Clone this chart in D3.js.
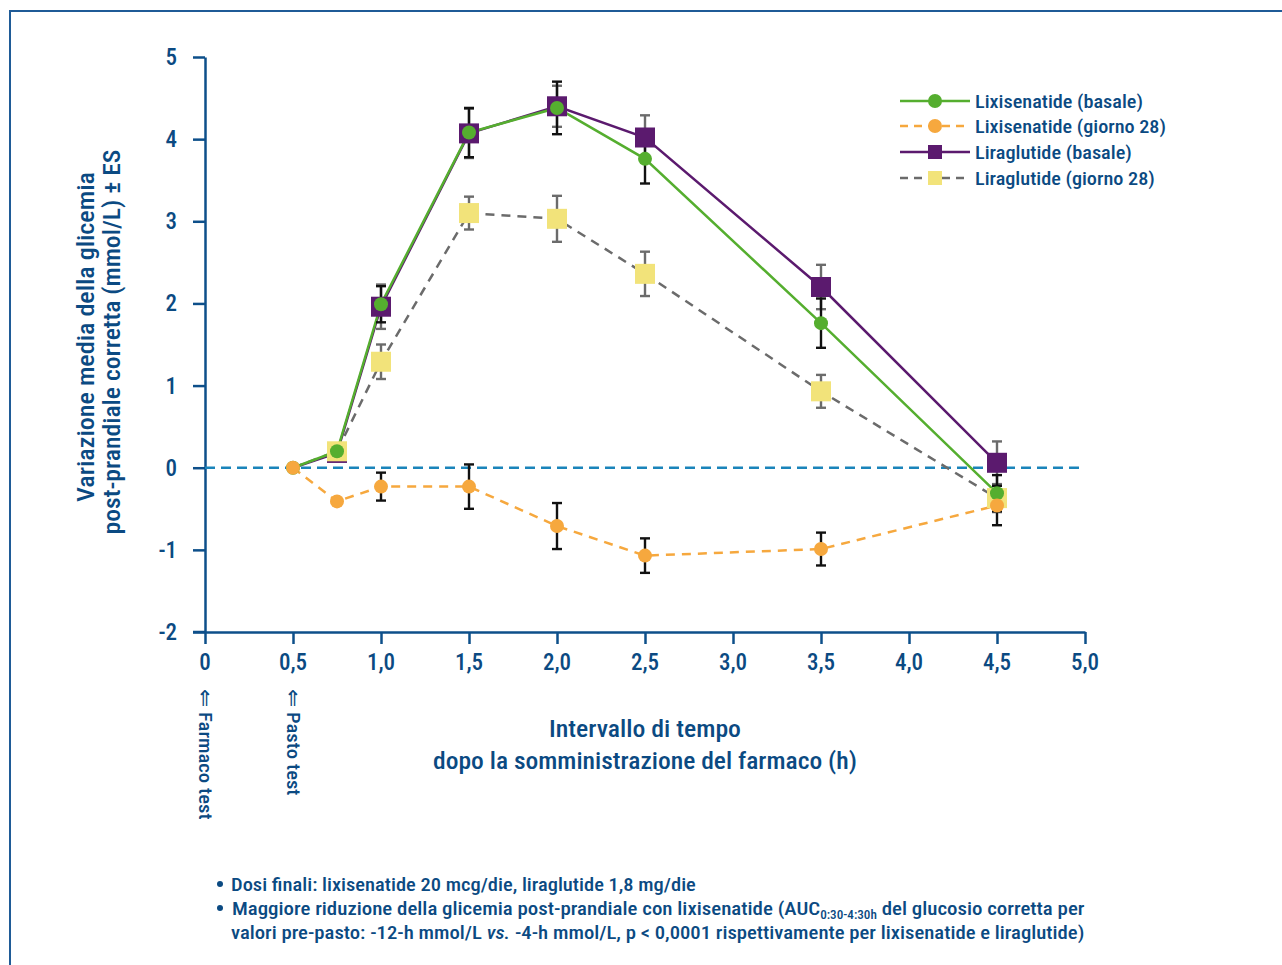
<!DOCTYPE html>
<html>
<head>
<meta charset="utf-8">
<script src="https://cdn.jsdelivr.net/npm/d3@7"></script>
<style>
  html, body { margin: 0; padding: 0; background: #ffffff; }
  svg { display: block; }
  text { font-family: "Liberation Sans Narrow", "Arial Narrow", "Roboto Condensed", Roboto, "Liberation Sans", sans-serif; fill: #0b4a82; font-weight: 500; }
</style>
</head>
<body>
<svg id="chart" width="1282" height="965"></svg>
<script>
// ---------- data ----------
const timeHours = [0.5, 0.75, 1.0, 1.5, 2.0, 2.5, 3.5, 4.5];

const lixiBasale      = [0, 0.20, 1.99, 4.08, 4.38, 3.76, 1.76, -0.31];
const lixiBasaleErr   = [null, null, 0.22, 0.30, 0.32, 0.30, 0.30, 0.22];
const lixiGiorno28    = [0, -0.41, -0.23, -0.23, -0.71, -1.07, -0.99, -0.46];
const lixiGiorno28Err = [null, null, 0.17, 0.27, 0.28, 0.21, 0.20, 0.24];
const liraBasale      = [0, 0.18, 1.96, 4.07, 4.40, 4.02, 2.20, 0.06];
const liraBasaleErr   = [null, null, 0.27, 0.30, 0.25, 0.27, 0.27, 0.26];
const liraGiorno28    = [0, 0.20, 1.29, 3.10, 3.03, 2.36, 0.93, -0.37];
const liraGiorno28Err = [null, null, 0.21, 0.20, 0.28, 0.27, 0.20, 0.17];

const seriesNames = ["Lixisenatide (basale)", "Lixisenatide (giorno 28)", "Liraglutide (basale)", "Liraglutide (giorno 28)"];

const xTicks = [0, 0.5, 1.0, 1.5, 2.0, 2.5, 3.0, 3.5, 4.0, 4.5, 5.0];
const xTickLabels = ["0", "0,5", "1,0", "1,5", "2,0", "2,5", "3,0", "3,5", "4,0", "4,5", "5,0"];
const yTicks = [5, 4, 3, 2, 1, 0, -1, -2];
const yTickLabels = ["5", "4", "3", "2", "1", "0", "-1", "-2"];

const yTitleLines = ["Variazione media della glicemia", "post-prandiale corretta (mmol/L) ± ES"];
const xTitleLines = ["Intervallo di tempo", "dopo la somministrazione del farmaco (h)"];
const markerNotes = ["Farmaco test", "Pasto test"];
const markerNoteX = [0, 0.5];

// ---------- styles ----------
const AXIS = "#0d4f8a";
const series = [
  { name: seriesNames[2], vals: liraBasale,   err: liraBasaleErr,   color: "#5b1a6e", errColor: "#6b6b6b", dash: null,  marker: "square", start: 1 },
  { name: seriesNames[3], vals: liraGiorno28, err: liraGiorno28Err, color: "#6b6b6b", fill: "#f2e37a", errColor: "#6b6b6b", dash: "9,7", marker: "square", start: 1 },
  { name: seriesNames[0], vals: lixiBasale,   err: lixiBasaleErr,   color: "#55ae2f", errColor: "#111111", dash: null,  marker: "circle", start: 0 },
  { name: seriesNames[1], vals: lixiGiorno28, err: lixiGiorno28Err, color: "#f6a83e", errColor: "#111111", dash: "9,7", marker: "circle", start: 0 }
];

const svg = d3.select("#chart");

// frame border
svg.append("rect").attr("x", 10).attr("y", 11).attr("width", 1400).attr("height", 1100)
  .attr("fill", "none").attr("stroke", "#1f5b97").attr("stroke-width", 2);

const x = d3.scaleLinear().domain([0, 5]).range([205, 1085]);
const y = d3.scaleLinear().domain([-2, 5]).range([632, 57]);

function fitWidth(sel, w) {
  const bb = sel.node().getBBox();
  return bb.width > 0 ? w / bb.width : 1;
}

// ---------- axes ----------
const yAxis = d3.axisLeft(y).tickValues(yTicks).tickFormat(() => "").tickSize(12).tickSizeOuter(0);
const gy = svg.append("g").attr("transform", `translate(${x(0)},0)`).call(yAxis);
gy.select(".domain").attr("stroke", AXIS).attr("stroke-width", 2.5);
gy.selectAll(".tick line").attr("stroke", AXIS).attr("stroke-width", 2.5);

const xAxis = d3.axisBottom(x).tickValues(xTicks).tickFormat(() => "").tickSize(12).tickSizeOuter(0);
const gx = svg.append("g").attr("transform", `translate(0,${y(-2)})`).call(xAxis);
gx.select(".domain").attr("stroke", AXIS).attr("stroke-width", 2.5);
gx.selectAll(".tick line").attr("stroke", AXIS).attr("stroke-width", 2.5);
svg.append("line").attr("x1", x(0) - 12).attr("x2", x(0)).attr("y1", y(-2)).attr("y2", y(-2))
  .attr("stroke", AXIS).attr("stroke-width", 2.5);

// tick labels
yTicks.forEach((v, i) => {
  svg.append("text").attr("x", 177).attr("y", y(v) + 8).attr("text-anchor", "end")
    .attr("font-size", 23).attr("font-weight", 400).text(yTickLabels[i]);
});
xTicks.forEach((v, i) => {
  svg.append("text").attr("x", x(v)).attr("y", 670).attr("text-anchor", "middle")
    .attr("font-size", 23).attr("font-weight", 400).text(xTickLabels[i]);
});

// axis titles
const yTitleBase = [94, 120];
const yTitleLen = [330, 385];
const yTitleCenter = [337, 342];
yTitleLines.forEach((t, i) => {
  const tx = svg.append("text").attr("text-anchor", "middle").attr("font-size", 23).text(t);
  const s = fitWidth(tx, yTitleLen[i]);
  tx.attr("transform", `translate(${yTitleBase[i]},${yTitleCenter[i]}) rotate(-90) scale(${s},1)`);
});
const xTitleBase = [737, 769];
const xTitleLen = [192, 424];
xTitleLines.forEach((t, i) => {
  const tx = svg.append("text").attr("text-anchor", "middle").attr("font-size", 23).text(t);
  const s = fitWidth(tx, xTitleLen[i]);
  tx.attr("transform", `translate(645,${xTitleBase[i]}) scale(${s},1)`);
});

// marker notes: arrow + rotated text
const noteLen = [108, 84];
markerNotes.forEach((t, i) => {
  const cx = x(markerNoteX[i]);
  svg.append("text").attr("x", cx).attr("y", 706).attr("text-anchor", "middle")
    .attr("font-size", 22).attr("font-weight", 400).style("font-family", "DejaVu Sans").text("⇑");
  const tx = svg.append("text").attr("text-anchor", "start").attr("font-size", 19).text(t);
  const s = fitWidth(tx, noteLen[i]);
  tx.attr("transform", `translate(${cx - 6},712) rotate(90) scale(${s},1)`);
});

// zero reference line
svg.append("line").attr("x1", x(0)).attr("x2", 1082).attr("y1", y(0)).attr("y2", y(0))
  .attr("stroke", "#1a84ba").attr("stroke-width", 2.5).attr("stroke-dasharray", "10,6");

// ---------- series ----------
const line = d3.line().x((d, i) => x(timeHours[i])).y(d => y(d));
const gLines = svg.append("g");
const gErr = svg.append("g");
const gMarks = svg.append("g");

series.forEach(s => {
  gLines.append("path").attr("d", line(s.vals)).attr("fill", "none")
    .attr("stroke", s.color).attr("stroke-width", 2.5)
    .attr("stroke-dasharray", s.dash);
});
series.forEach(s => {
  s.vals.forEach((v, i) => {
    const e = s.err[i];
    if (e == null) return;
    const cx = x(timeHours[i]);
    const g = gErr.append("g").attr("stroke", s.errColor).attr("stroke-width", 2.4);
    g.append("line").attr("x1", cx).attr("x2", cx).attr("y1", y(v + e)).attr("y2", y(v - e));
    g.append("line").attr("x1", cx - 5).attr("x2", cx + 5).attr("y1", y(v + e)).attr("y2", y(v + e));
    g.append("line").attr("x1", cx - 5).attr("x2", cx + 5).attr("y1", y(v - e)).attr("y2", y(v - e));
  });
});
series.forEach(s => {
  s.vals.forEach((v, i) => {
    if (i < s.start) return;
    const cx = x(timeHours[i]), cy = y(v);
    if (s.marker === "square") {
      gMarks.append("rect").attr("x", cx - 10).attr("y", cy - 10).attr("width", 20).attr("height", 20)
        .attr("fill", s.fill || s.color);
    } else {
      gMarks.append("circle").attr("cx", cx).attr("cy", cy).attr("r", 7).attr("fill", s.color);
    }
  });
});

// ---------- legend ----------
const legendOrder = [2, 3, 0, 1];
const legendY = [101, 126, 152, 178];
const legendLen = [168, 191, 157, 180];
legendOrder.forEach((si, r) => {
  const s = series[si];
  const ly = legendY[r];
  svg.append("line").attr("x1", 900).attr("x2", 970).attr("y1", ly).attr("y2", ly)
    .attr("stroke", s.color).attr("stroke-width", 2.5).attr("stroke-dasharray", s.dash ? "8,6" : null);
  if (s.marker === "square") {
    svg.append("rect").attr("x", 935 - 7).attr("y", ly - 7).attr("width", 14).attr("height", 14).attr("fill", s.fill || s.color);
  } else {
    svg.append("circle").attr("cx", 935).attr("cy", ly).attr("r", 7).attr("fill", s.color);
  }
  const tx = svg.append("text").attr("font-size", 19).text(s.name);
  const sc = fitWidth(tx, legendLen[r]);
  tx.attr("transform", `translate(975,${ly + 7}) scale(${sc},1)`);
});

// ---------- notes ----------
const noteBullets = [884, 908];
noteBullets.forEach(by => {
  svg.append("circle").attr("cx", 220).attr("cy", by).attr("r", 3).attr("fill", "#0b4a82");
});
const n1 = svg.append("text").attr("font-size", 19).text("Dosi finali: lixisenatide 20 mcg/die, liraglutide 1,8 mg/die");
n1.attr("transform", `translate(231,891) scale(${fitWidth(n1, 465)},1)`);

const n2 = svg.append("text").attr("font-size", 19);
n2.append("tspan").text("Maggiore riduzione della glicemia post-prandiale con lixisenatide (AUC");
n2.append("tspan").attr("font-size", 12).attr("dy", 4).text("0:30-4:30h");
n2.append("tspan").attr("dy", -4).text(" del glucosio corretta per");
n2.attr("transform", `translate(232,915) scale(${fitWidth(n2, 853)},1)`);

const n3 = svg.append("text").attr("font-size", 19);
n3.append("tspan").text("valori pre-pasto: -12-h mmol/L ");
n3.append("tspan").attr("font-style", "italic").text("vs.");
n3.append("tspan").text(" -4-h mmol/L, p < 0,0001 rispettivamente per lixisenatide e liraglutide)");
n3.attr("transform", `translate(231,939) scale(${fitWidth(n3, 854)},1)`);
</script>
</body>
</html>
